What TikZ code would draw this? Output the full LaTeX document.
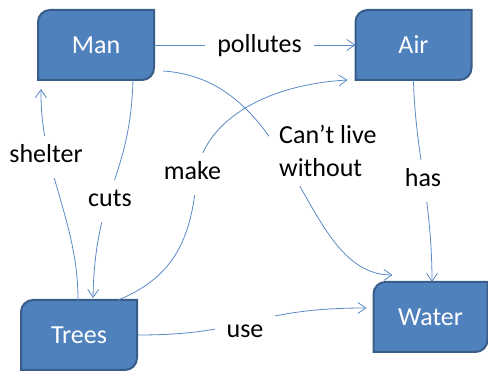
\documentclass[tikz,border=0pt]{standalone}
\usepackage{fontspec}
\setmainfont{Carlito}
\usetikzlibrary{arrows.meta,backgrounds}
\definecolor{boxfill}{HTML}{4F81BD}
\definecolor{boxedge}{HTML}{385D8A}
\definecolor{linkc}{HTML}{5B8AC6}
\newcommand\diagbox[1]{%
  \draw[boxline] (#1.south west) -- ([yshift=-12pt]#1.north west)
    arc[start angle=180,end angle=90,radius=12pt] -- (#1.north east)
    -- ([yshift=12pt]#1.south east)
    arc[start angle=0,end angle=-90,radius=12pt] -- cycle;}
\begin{document}
\begin{tikzpicture}[x=1pt,y=-1pt,
  font=\fontsize{26}{33}\selectfont,
  box/.style={minimum width=116pt, minimum height=70pt, inner sep=0pt, outer sep=0pt, text=white},
  boxline/.style={draw=boxedge, fill=boxfill, line width=2pt},
  lbl/.style={fill=white, inner xsep=12pt, inner ysep=10pt, text height=17pt, text depth=5pt},
  lblm/.style={fill=white, inner xsep=10pt, inner ysep=10pt, align=left},
  link/.style={draw=linkc, line width=0.8pt, -{Straight Barb[length=8pt,width=11pt]}}]
\useasboundingbox (0,0) rectangle (488,371);
% boxes
\node[box] (man) at (96,45) {Man};
\node[box] (air) at (413.5,45) {Air};
\node[box] (trees) at (79,335) {Trees};
\node[box, minimum width=114pt] (water) at (430.5,317) {Water};
\begin{scope}[on background layer]
  \diagbox{man}\diagbox{air}\diagbox{trees}\diagbox{water}
\end{scope}
% connectors
\draw[link] (man.east) -- (air.west);
\draw[link] ([xshift=9pt,yshift=9pt]man.south east) .. controls (300,80) and (300,275) .. ([xshift=19pt,yshift=7pt]water.north west);
\draw[link] ([xshift=-1pt]trees.north) .. controls (78,220) and (40,170) .. ([xshift=3pt,yshift=-9pt]man.south west);
\draw[link] ([xshift=37pt]man.south) .. controls (130,180) and (95,190) .. ([xshift=14pt,yshift=2pt]trees.north);
\coordinate (mk) at (197,175);
\draw[link] ([xshift=39pt]trees.north) .. controls (180,275) and (192,230) .. (mk)
  .. controls (202,125) and (260,85) .. ([xshift=-8pt]air.south west);
\draw[link] (air.south) .. controls (415,150) and (432,200) .. ([xshift=1.5pt]water.north);
\draw[link] ([xshift=1pt]trees.east) .. controls (250,335) and (250,308) .. ([xshift=-7pt,yshift=9pt]water.west);
% labels
\node[lbl] (lpol) at (259.5,47) {pollutes};
\node[lbl] (lshel) at (46,157) {shelter};
\node[lbl] (lmake) at (192.5,174) {make};
\node[lbl] (lcuts) at (110,201) {cuts};
\node[lbl] (lhas) at (423,181) {has};
\node[lbl] (luse) at (245,332) {use};
\node[lblm, anchor=west] (lcant) at (269,150.5) {Can’t live\\without};
\end{tikzpicture}
\end{document}
